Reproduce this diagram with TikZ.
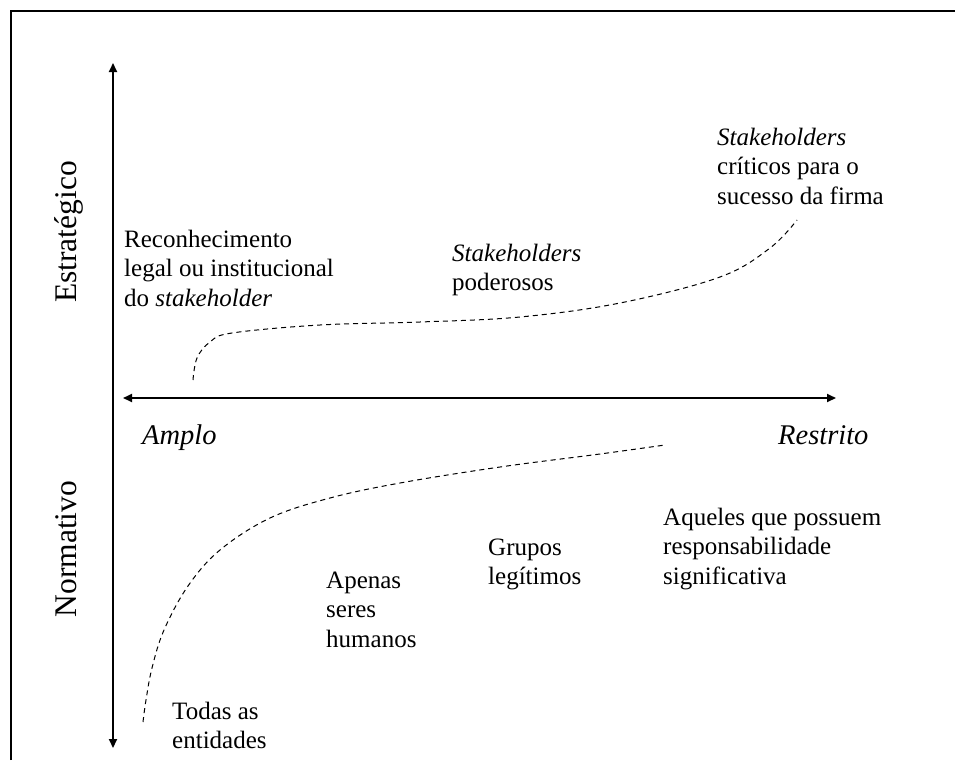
\documentclass[tikz,border=0pt]{standalone}
\usepackage{fontspec}
\setmainfont{Liberation Serif}
\usetikzlibrary{arrows.meta}
\begin{document}
\begin{tikzpicture}[x=1pt,y=-1pt,
  axis/.style={line width=2pt,{Triangle[length=9pt,width=8pt]}-{Triangle[length=9pt,width=8pt]}},
  frame/.style={line width=1.5pt},
  curve/.style={line width=1pt,dash pattern=on 5pt off 4pt},
  txt/.style={anchor=north west,inner sep=0pt,align=left,font=\fontsize{25}{29.5}\selectfont},
  pole/.style={anchor=base west,inner sep=0pt,font=\fontsize{28.5}{32}\selectfont\itshape},
  side/.style={anchor=base,inner sep=0pt,rotate=90,font=\fontsize{31.5}{36}\selectfont}]
\useasboundingbox (0,0) rectangle (955,760);
\fill[white] (-5,-5) rectangle (960,765);

% outer frame (top and left edges)
\coordinate (fbl) at (11,760);
\coordinate (ftl) at (11,11);
\coordinate (ftr) at (955,11);
\draw[frame] (fbl) -- (ftl) -- (ftr);

% axes
\coordinate (vtop) at (113,63);
\coordinate (vbot) at (113,748);
\coordinate (hleft) at (123,398);
\coordinate (hright) at (836,398);
\draw[axis] (vtop) -- (vbot);
\draw[axis] (hleft) -- (hright);

% axis labels
\node[side] (estr) at (76,232) {Estratégico};
\node[side] (norm) at (76,549) {Normativo};
\node[pole] (amplo) at (142,444) {Amplo};
\node[pole] (restr) at (778,444) {Restrito};

% strategic view
\node[txt] (recon) at (124,247-20.65) {\strut Reconhecimento\\legal ou institucional\\do \textit{stakeholder}};
\node[txt] (poder) at (452,261-20.65) {\strut\textit{Stakeholders}\\poderosos};
\node[txt] (crit) at (717,145-20.65) {\strut\textit{Stakeholders}\\críticos para o\\sucesso da firma};

% normative view
\node[txt] (todas) at (172,719-20.65) {\strut Todas as\\entidades};
\node[txt] (apenas) at (326,588-20.65) {\strut Apenas\\seres\\humanos};
\node[txt] (grupos) at (488,555-20.65) {\strut Grupos\\legítimos};
\node[txt] (aqueles) at (663,525-20.65) {\strut Aqueles que possuem\\responsabilidade\\significativa};

% dashed trend curves
\coordinate (ustart) at (193,380);
\coordinate (uend) at (797,220);
\draw[curve] plot[smooth,tension=0.6] coordinates {(ustart) (197,358) (210,342) (232,333) (320,325) (420,322) (520,317) (620,303) (720,277) (770,248) (uend)};

\coordinate (lstart) at (143,722);
\coordinate (lend) at (665,445);
\draw[curve] plot[smooth,tension=0.6] coordinates {(lstart) (146,700) (152,668) (164,630) (188,586) (220,550) (270,518) (330,498) (400,483) (500,467) (600,454) (lend)};
\end{tikzpicture}
\end{document}
